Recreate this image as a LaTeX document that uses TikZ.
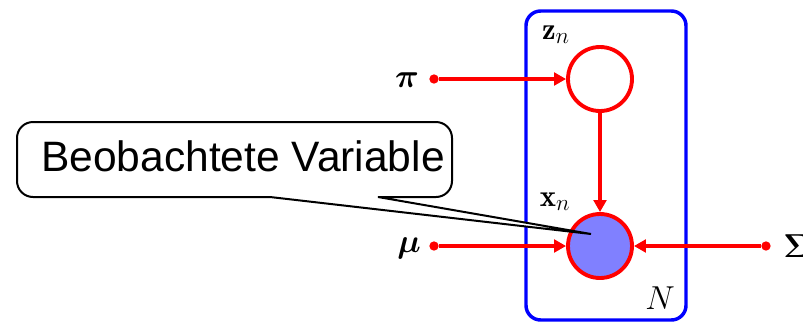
\documentclass[tikz,border=0pt]{standalone}
\usepackage{fontspec}
\usepackage{amsmath}
\usepackage{bm}
\newfontfamily\callfont{Liberation Sans}
\usetikzlibrary{arrows.meta}
\definecolor{obsfill}{RGB}{128,128,255}
\tikzset{
  rv/.style={circle, draw=red, line width=2.9pt, minimum size=64*0.75pt, inner sep=0pt},
  edge/.style={draw=red, line width=2.8pt, -{Triangle[length=9pt,width=9.5pt]}},
  dotpt/.style={circle, fill=red, inner sep=0pt, minimum size=7pt},
  lab/.style={font=\fontsize{23}{27}\selectfont, inner sep=0pt},
  biglab/.style={font=\fontsize{25}{30}\selectfont, inner sep=0pt},
  plate/.style={draw=blue, line width=2.6pt, rounded corners=11pt},
  callout/.style={draw=black, line width=1.5pt, fill=white}
}
\begin{document}
\begin{tikzpicture}[x=0.75pt,y=-0.75pt]
\useasboundingbox (0,0) rectangle (803,322);
% plate
\draw[plate] (526,11) rectangle (686,320);
\node[biglab] (N) at (660,298) {$N$};
% variables
\node[rv, fill=white] (z) at (600,79) {};
\node[rv, fill=obsfill] (x) at (600,246) {};
\node[lab, anchor=base] (zl) at (556,39) {$\mathbf{z}_n$};
\node[lab, anchor=base] (xl) at (555,206) {$\mathbf{x}_n$};
% parameters
\node[dotpt] (pidot) at (434,79) {};
\node[dotpt] (mudot) at (434,246) {};
\node[dotpt] (sigdot) at (766,246) {};
\node[biglab, anchor=base] (pil) at (407,87) {$\bm{\pi}$};
\node[biglab, anchor=base] (mul) at (409,252) {$\bm{\mu}$};
\node[biglab, anchor=base west] (sigl) at (783,257) {$\bm{\Sigma}$};
% edges
\draw[edge] (pidot) -- (z);
\draw[edge] (z) -- (x);
\draw[edge] (mudot) -- (x);
\draw[edge] (sigdot) -- (x);
% callout
\coordinate (tip) at (591,234);
\draw[callout] (270,197) [rounded corners=12pt] -- (17,197) -- (17,122) -- (452,122) -- (452,197) [sharp corners] -- (378,197) -- (tip) -- cycle;
\node[font=\callfont\fontsize{31.9}{38}\selectfont, inner sep=0pt, anchor=base] (callt) at (243,171) {Beobachtete Variable};
\end{tikzpicture}
\end{document}
